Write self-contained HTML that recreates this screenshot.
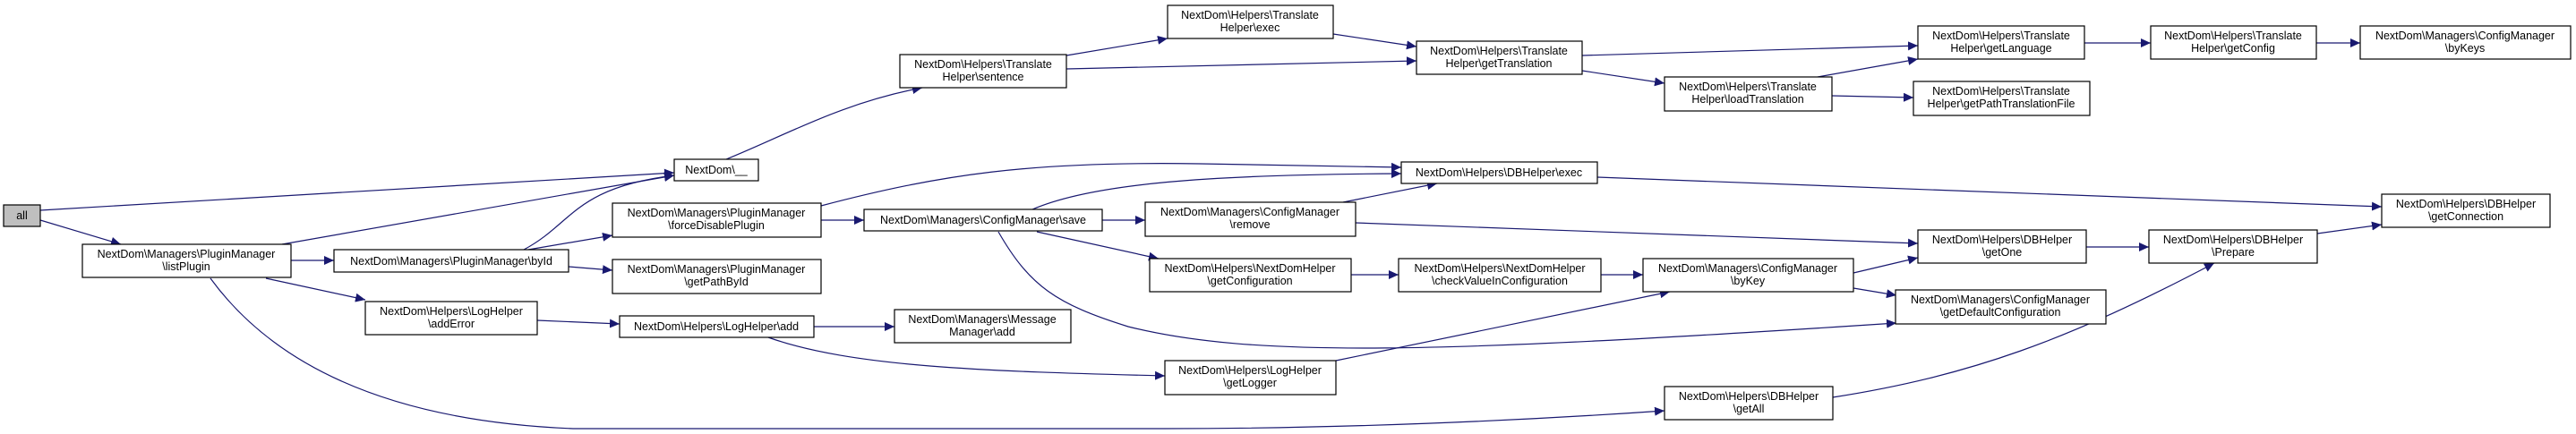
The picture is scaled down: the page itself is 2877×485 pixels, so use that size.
<!DOCTYPE html>
<html><head><meta charset="utf-8"><style>
html,body{margin:0;padding:0;background:#fff;}
svg{display:block;}
text{font-family:"Liberation Sans",sans-serif;font-size:12.5px;fill:#000;text-anchor:middle;}
.b{fill:#fff;stroke:#000;stroke-width:1.2;}
.e{fill:none;stroke:#191970;stroke-width:1.2;marker-end:url(#a);}
</style></head><body>
<svg width="2877" height="485" viewBox="0 0 2877 485">
<defs><marker id="a" markerWidth="12" markerHeight="10" refX="11" refY="5" orient="auto" markerUnits="userSpaceOnUse"><path d="M0,0 L11,5 L0,10 Z" fill="#191970"/></marker></defs>
<g>
<path class="e" d="M45,235 L753,193"/>
<path class="e" d="M45,246 L135,273"/>
<path class="e" d="M315,273 L753,196"/>
<path class="e" d="M325,291 L373,291"/>
<path class="e" d="M297,311 L408,335"/>
<path class="e" d="M235,311 C300,400 420,470 640,479 L1300,479 C1500,479 1700,470 1859,459"/>
<path class="e" d="M585,279 C640,250 640,210 753,196"/>
<path class="e" d="M590,279 L684,263"/>
<path class="e" d="M635,298 L684,302"/>
<path class="e" d="M917,230 C1050,195 1150,180 1340,183 L1565,187"/>
<path class="e" d="M917,246 L965,246"/>
<path class="e" d="M1153,234 C1220,205 1350,195 1565,194"/>
<path class="e" d="M1231,246 L1279,246"/>
<path class="e" d="M1158,259 L1294,289"/>
<path class="e" d="M1115,259 C1150,320 1180,340 1260,365 C1400,400 1600,395 2118,361"/>
<path class="e" d="M1500,226 L1605,205"/>
<path class="e" d="M1514,249 L2142,272"/>
<path class="e" d="M1509,307 L1562,307"/>
<path class="e" d="M1788,307 L1835,307"/>
<path class="e" d="M2070,305 L2142,288"/>
<path class="e" d="M2070,322 L2118,330"/>
<path class="e" d="M600,358 L692,362"/>
<path class="e" d="M909,365 L999,365"/>
<path class="e" d="M858,377 C950,410 1100,415 1301,420"/>
<path class="e" d="M1492,403 L1865,326"/>
<path class="e" d="M2047,444 C2200,420 2310,380 2473,294"/>
<path class="e" d="M2330,276 L2400,276"/>
<path class="e" d="M2588,261 L2660,251"/>
<path class="e" d="M1784,198 L2660,231"/>
<path class="e" d="M811,178 C880,150 940,115 1030,98"/>
<path class="e" d="M1191,62 L1304,43"/>
<path class="e" d="M1191,77 L1582,68"/>
<path class="e" d="M1489,38 L1582,52"/>
<path class="e" d="M1767,62 L2142,51"/>
<path class="e" d="M1767,79 L1859,93"/>
<path class="e" d="M2030,86 L2142,66"/>
<path class="e" d="M2046,107 L2137,109"/>
<path class="e" d="M2328,48 L2402,48"/>
<path class="e" d="M2587,48 L2636,48"/>
</g>
<g>
<rect x="4" y="229" width="41" height="24" fill="#bfbfbf" stroke="#000" stroke-width="1.2"/><text x="24.5" y="245">all</text>
<rect class="b" x="92" y="273" width="233" height="37"/><text x="208" y="288">NextDom\Managers\PluginManager</text><text x="208" y="302">\listPlugin</text>
<rect class="b" x="753" y="178" width="94" height="24"/><text x="800" y="194">NextDom\__</text>
<rect class="b" x="373" y="279" width="262" height="25"/><text x="504" y="296">NextDom\Managers\PluginManager\byId</text>
<rect class="b" x="684" y="227" width="233" height="38"/><text x="800" y="242">NextDom\Managers\PluginManager</text><text x="800" y="256">\forceDisablePlugin</text>
<rect class="b" x="684" y="290" width="233" height="38"/><text x="800" y="305">NextDom\Managers\PluginManager</text><text x="800" y="319">\getPathById</text>
<rect class="b" x="408" y="337" width="192" height="37"/><text x="504" y="352">NextDom\Helpers\LogHelper</text><text x="504" y="366">\addError</text>
<rect class="b" x="692" y="353" width="217" height="24"/><text x="800" y="369">NextDom\Helpers\LogHelper\add</text>
<rect class="b" x="1005" y="61" width="186" height="37"/><text x="1098" y="76">NextDom\Helpers\Translate</text><text x="1098" y="90">Helper\sentence</text>
<rect class="b" x="1304" y="6" width="185" height="37"/><text x="1396" y="21">NextDom\Helpers\Translate</text><text x="1396" y="35">Helper\exec</text>
<rect class="b" x="1582" y="46" width="185" height="37"/><text x="1674" y="61">NextDom\Helpers\Translate</text><text x="1674" y="75">Helper\getTranslation</text>
<rect class="b" x="1859" y="86" width="187" height="38"/><text x="1952" y="101">NextDom\Helpers\Translate</text><text x="1952" y="115">Helper\loadTranslation</text>
<rect class="b" x="2142" y="29" width="186" height="37"/><text x="2235" y="44">NextDom\Helpers\Translate</text><text x="2235" y="58">Helper\getLanguage</text>
<rect class="b" x="2137" y="91" width="197" height="38"/><text x="2235" y="106">NextDom\Helpers\Translate</text><text x="2235" y="120">Helper\getPathTranslationFile</text>
<rect class="b" x="2402" y="29" width="185" height="37"/><text x="2494" y="44">NextDom\Helpers\Translate</text><text x="2494" y="58">Helper\getConfig</text>
<rect class="b" x="2636" y="29" width="235" height="37"/><text x="2753" y="44">NextDom\Managers\ConfigManager</text><text x="2753" y="58">\byKeys</text>
<rect class="b" x="1565" y="181" width="219" height="24"/><text x="1674" y="197">NextDom\Helpers\DBHelper\exec</text>
<rect class="b" x="965" y="234" width="266" height="24"/><text x="1098" y="250">NextDom\Managers\ConfigManager\save</text>
<rect class="b" x="1279" y="226" width="235" height="38"/><text x="1396" y="241">NextDom\Managers\ConfigManager</text><text x="1396" y="255">\remove</text>
<rect class="b" x="1284" y="289" width="225" height="37"/><text x="1396" y="304">NextDom\Helpers\NextDomHelper</text><text x="1396" y="318">\getConfiguration</text>
<rect class="b" x="1562" y="289" width="226" height="37"/><text x="1675" y="304">NextDom\Helpers\NextDomHelper</text><text x="1675" y="318">\checkValueInConfiguration</text>
<rect class="b" x="1835" y="289" width="235" height="37"/><text x="1952" y="304">NextDom\Managers\ConfigManager</text><text x="1952" y="318">\byKey</text>
<rect class="b" x="2142" y="257" width="188" height="37"/><text x="2236" y="272">NextDom\Helpers\DBHelper</text><text x="2236" y="286">\getOne</text>
<rect class="b" x="2117" y="324" width="235" height="38"/><text x="2234" y="339">NextDom\Managers\ConfigManager</text><text x="2234" y="353">\getDefaultConfiguration</text>
<rect class="b" x="999" y="346" width="197" height="37"/><text x="1097" y="361">NextDom\Managers\Message</text><text x="1097" y="375">Manager\add</text>
<rect class="b" x="1301" y="403" width="191" height="38"/><text x="1396" y="418">NextDom\Helpers\LogHelper</text><text x="1396" y="432">\getLogger</text>
<rect class="b" x="1859" y="432" width="188" height="37"/><text x="1953" y="447">NextDom\Helpers\DBHelper</text><text x="1953" y="461">\getAll</text>
<rect class="b" x="2400" y="257" width="188" height="37"/><text x="2494" y="272">NextDom\Helpers\DBHelper</text><text x="2494" y="286">\Prepare</text>
<rect class="b" x="2660" y="217" width="188" height="37"/><text x="2754" y="232">NextDom\Helpers\DBHelper</text><text x="2754" y="246">\getConnection</text>
</g>
</svg>
</body></html>
